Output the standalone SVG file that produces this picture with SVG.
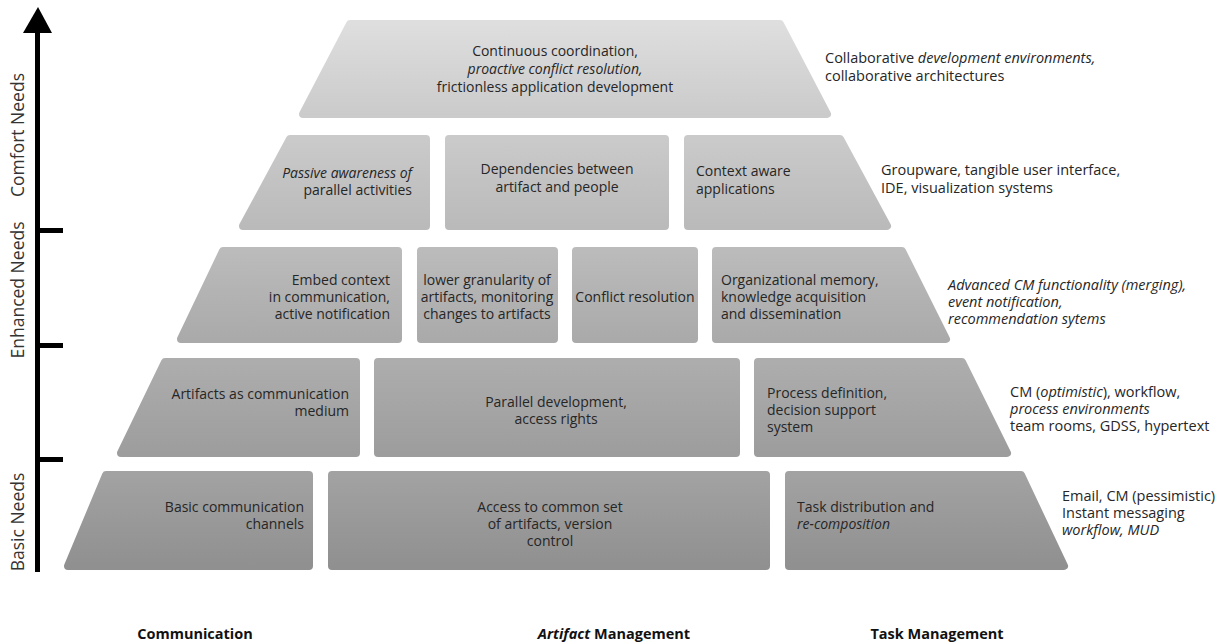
<svg xmlns="http://www.w3.org/2000/svg" width="1225" height="644" viewBox="0 0 1225 644">
<defs>
<linearGradient id="g1" x1="0" y1="0" x2="0" y2="1"><stop offset="0" stop-color="#dedede"/><stop offset="1" stop-color="#cbcbcb"/></linearGradient>
<linearGradient id="g2" x1="0" y1="0" x2="0" y2="1"><stop offset="0" stop-color="#cacaca"/><stop offset="1" stop-color="#bababa"/></linearGradient>
<linearGradient id="g3" x1="0" y1="0" x2="0" y2="1"><stop offset="0" stop-color="#bbbbbb"/><stop offset="1" stop-color="#aaaaaa"/></linearGradient>
<linearGradient id="g4" x1="0" y1="0" x2="0" y2="1"><stop offset="0" stop-color="#adadad"/><stop offset="1" stop-color="#9d9d9d"/></linearGradient>
<linearGradient id="g5" x1="0" y1="0" x2="0" y2="1"><stop offset="0" stop-color="#a2a2a2"/><stop offset="1" stop-color="#909090"/></linearGradient>
</defs>
<style>
.r1{fill:url(#g1);stroke:url(#g1)}
.r2{fill:url(#g2);stroke:url(#g2)}
.r3{fill:url(#g3);stroke:url(#g3)}
.r4{fill:url(#g4);stroke:url(#g4)}
.r5{fill:url(#g5);stroke:url(#g5)}
.sh{stroke-width:8;stroke-linejoin:round}
text{font-family:"Open Sans","Noto Sans","DejaVu Sans",sans-serif;fill:#262626}
.t{font-size:14px}
.a{font-size:14.5px}
.c{text-anchor:middle}
.e{text-anchor:end}
.i{font-style:italic}
.ax{font-size:17.5px;text-anchor:middle;fill:#333}
.b{font-size:14.5px;font-weight:bold;fill:#111}
</style>
<g id="axis">
<line x1="37.5" y1="30" x2="37.5" y2="572" stroke="#000" stroke-width="5"/>
<polygon points="38,7 52,33 23,33" fill="#000"/>
<line x1="37" y1="230.5" x2="63" y2="230.5" stroke="#000" stroke-width="5"/>
<line x1="37" y1="345.5" x2="63" y2="345.5" stroke="#000" stroke-width="5"/>
<line x1="37" y1="459.5" x2="63" y2="459.5" stroke="#000" stroke-width="5"/>
<text class="ax" transform="translate(24,135) rotate(-90)">Comfort Needs</text>
<text class="ax" transform="translate(24,290) rotate(-90)">Enhanced Needs</text>
<text class="ax" transform="translate(24,522) rotate(-90)">Basic Needs</text>
</g>
<g id="connectors"></g>
<g id="top">
<path class="r1 sh" d="M350,24 L780,24 L827,114 L303,114 Z"/>
<text class="t c" x="555" y="56">Continuous coordination,</text>
<text class="t c i" x="555" y="74">proactive conflict resolution,</text>
<text class="t c" x="555" y="92">frictionless application development</text>
</g>
<g id="passive">
<path class="r2 sh" d="M290,139 L426,139 L426,226 L243,226 Z"/>
<text class="t e i" x="412" y="178">Passive awareness of</text>
<text class="t e" x="412" y="195">parallel activities</text>
</g>
<g id="dependencies">
<path class="r2 sh" d="M449,139 H665 V226 H449 Z"/>
<text class="t c" x="557" y="174">Dependencies between</text>
<text class="t c" x="557" y="192">artifact and people</text>
</g>
<g id="context">
<path class="r2 sh" d="M688,139 L840,139 L887,226 L688,226 Z"/>
<text class="t" x="696" y="176">Context aware</text>
<text class="t" x="696" y="194">applications</text>
</g>
<g id="embed">
<path class="r3 sh" d="M223,251 L398,251 L398,339 L181,339 Z"/>
<text class="t e" x="390" y="285">Embed context</text>
<text class="t e" x="390" y="302">in communication,</text>
<text class="t e" x="390" y="319">active notification</text>
</g>
<g id="granularity">
<path class="r3 sh" d="M421,251 H554 V339 H421 Z"/>
<text class="t c" x="487" y="285">lower granularity of</text>
<text class="t c" x="487" y="302">artifacts, monitoring</text>
<text class="t c" x="487" y="319">changes to artifacts</text>
</g>
<g id="conflict">
<path class="r3 sh" d="M576,251 H694 V339 H576 Z"/>
<text class="t c" x="635" y="302">Conflict resolution</text>
</g>
<g id="memory">
<path class="r3 sh" d="M716,251 L902,251 L946,339 L716,339 Z"/>
<text class="t" x="721" y="285">Organizational memory,</text>
<text class="t" x="721" y="302">knowledge acquisition</text>
<text class="t" x="721" y="319">and dissemination</text>
</g>
<g id="artifacts-medium">
<path class="r4 sh" d="M165,362 L356,362 L356,453 L121,453 Z"/>
<text class="t e" x="349" y="399">Artifacts as communication</text>
<text class="t e" x="349" y="416">medium</text>
</g>
<g id="parallel">
<path class="r4 sh" d="M378,362 H736 V453 H378 Z"/>
<text class="t c" x="556" y="407">Parallel development,</text>
<text class="t c" x="556" y="424">access rights</text>
</g>
<g id="process">
<path class="r4 sh" d="M758,362 L962,362 L1007,453 L758,453 Z"/>
<text class="t" x="767" y="398">Process definition,</text>
<text class="t" x="767" y="415">decision support</text>
<text class="t" x="767" y="432">system</text>
</g>
<g id="basic-comm">
<path class="r5 sh" d="M106,475 L309,475 L309,566 L68,566 Z"/>
<text class="t e" x="304" y="512">Basic communication</text>
<text class="t e" x="304" y="529">channels</text>
</g>
<g id="access">
<path class="r5 sh" d="M332,475 H766 V566 H332 Z"/>
<text class="t c" x="550" y="512">Access to common set</text>
<text class="t c" x="550" y="529">of artifacts, version</text>
<text class="t c" x="550" y="546">control</text>
</g>
<g id="task">
<path class="r5 sh" d="M789,475 L1021,475 L1064,566 L789,566 Z"/>
<text class="t" x="797" y="512">Task distribution and</text>
<text class="t i" x="797" y="529">re-composition</text>
</g>
<g id="annotations">
<text class="a" x="825" y="63">Collaborative <tspan class="i">development environments,</tspan></text>
<text class="a" x="825" y="81">collaborative architectures</text>
<text class="a" x="881" y="175">Groupware, tangible user interface,</text>
<text class="a" x="881" y="193">IDE, visualization systems</text>
<text class="a i" x="948" y="290">Advanced CM functionality (merging),</text>
<text class="a i" x="948" y="307">event notification,</text>
<text class="a i" x="948" y="324">recommendation sytems</text>
<text class="a" x="1010" y="397">CM (<tspan class="i">optimistic</tspan>), workflow,</text>
<text class="a i" x="1010" y="414">process environments</text>
<text class="a" x="1010" y="431">team rooms, GDSS, hypertext</text>
<text class="a" x="1062" y="501">Email, CM (pessimistic)</text>
<text class="a" x="1062" y="518">Instant messaging</text>
<text class="a i" x="1062" y="535">workflow, MUD</text>
</g>
<g id="columns">
<text class="b c" x="195" y="639">Communication</text>
<text class="b c" x="614" y="639"><tspan font-style="italic">Artifact</tspan> Management</text>
<text class="b c" x="937" y="639">Task Management</text>
</g>
</svg>
